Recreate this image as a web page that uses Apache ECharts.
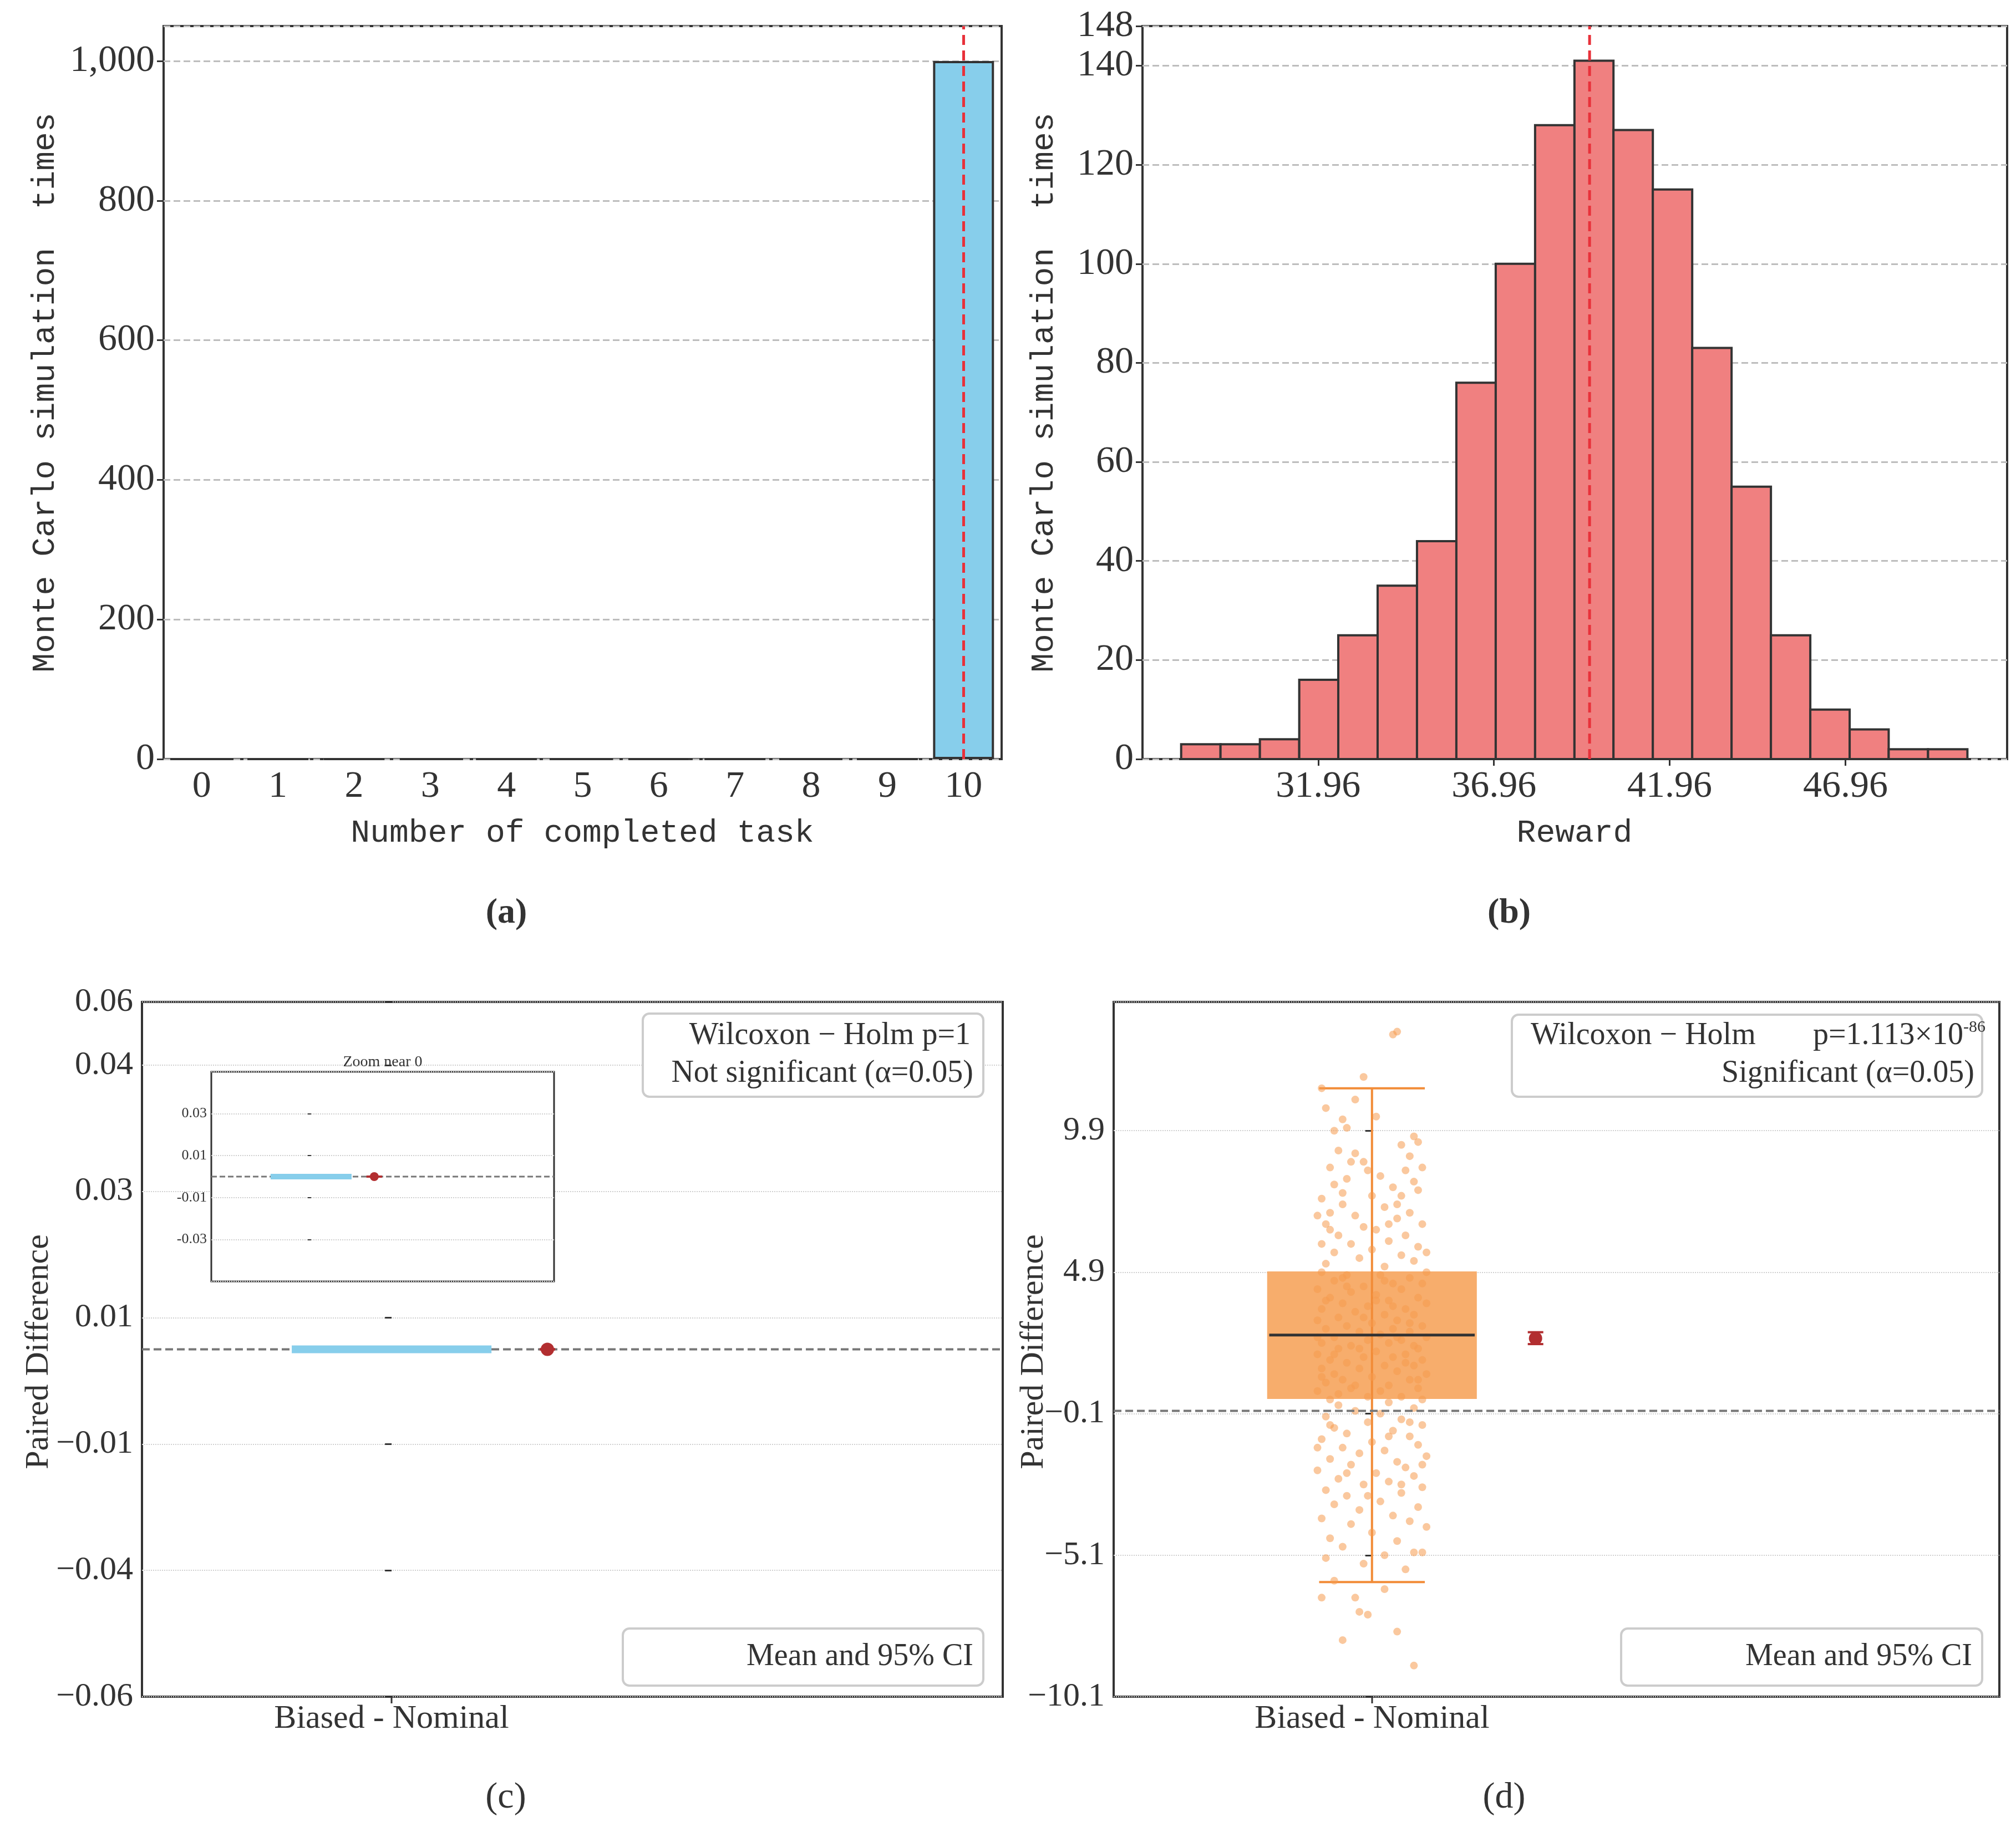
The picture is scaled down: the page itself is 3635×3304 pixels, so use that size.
<!DOCTYPE html>
<html>
<head>
<meta charset="utf-8">
<script src="https://cdn.jsdelivr.net/npm/echarts@6/dist/echarts.min.js"></script>
<style>html,body{margin:0;padding:0;background:#fff}#main{width:3635px;height:3304px}</style>
</head>
<body>
<div id="main"></div>
<script>
// (a) 完成任务数
var aCategories = ['0','1','2','3','4','5','6','7','8','9','10'];
var aCounts = [0,0,0,0,0,0,0,0,0,0,1000];
var aMarker = '10';
// (b) 奖励直方图
var bEdges = [28.06,29.18,30.30,31.42,32.53,33.65,34.77,35.89,37.01,38.13,39.25,40.36,41.48,42.60,43.72,44.84,45.96,47.08,48.19,49.31,50.43];
var bCounts = [3,3,4,16,25,35,44,76,100,128,141,127,115,83,55,25,10,6,2,2];
var bMarker = 39.68;
// (c) 配对差值 (全零)
var cBox = [0,0,0,0,0];
var cMean = [0.39, 0, 0, 0];
// (d) 配对差值
var dBox = [-6.05, 0.42, 2.68, 4.93, 11.4];
var dMean = [0.39, 2.56, 2.36, 2.78];
var dPoints = [
[0.05,13.3],[0.06,13.4],[-0.02,11.8],[-0.12,11.4],[-0.11,10.7],[-0.07,10.3],[0.01,10.4],[-0.04,11.0],[-0.09,9.9],[-0.06,10.0],
[0.10,9.7],[0.07,9.4],[-0.08,9.2],[-0.04,9.1],[0.11,9.5],[-0.05,8.8],[-0.02,8.8],[-0.10,8.6],[0.12,8.6],[0.08,8.5],
[0.02,8.3],[-0.06,8.2],[0.10,8.1],[-0.09,8.0],[0.05,7.9],[-0.12,7.5],[0.00,7.6],[0.07,7.6],[0.11,7.8],[-0.07,7.3],
[0.03,7.2],[-0.10,7.0],[0.09,7.0],[-0.04,6.9],[0.06,6.8],[0.12,6.6],[-0.11,6.6],[-0.02,6.5],[0.01,6.4],[-0.08,6.2],
[0.08,6.2],[0.04,6.0],[-0.12,5.9],[-0.05,5.9],[0.11,5.8],[0.00,5.7],[-0.09,5.6],[0.07,5.5],[-0.03,5.4],[0.10,5.3],
[-0.11,5.2],[0.03,5.1],[0.13,5.6],[-0.13,6.9],[0.06,7.3],[-0.01,8.5],[0.09,9.0],[-0.07,7.7],[0.04,6.6],[-0.10,6.4],
[-0.12,4.9],[-0.06,4.8],[0.02,4.8],[0.09,4.7],[-0.09,4.6],[0.05,4.5],[0.12,4.5],[-0.02,4.4],[-0.13,4.3],[0.07,4.3],
[-0.05,4.2],[0.01,4.1],[0.11,4.0],[-0.10,4.0],[0.04,3.9],[-0.07,3.8],[0.13,3.8],[-0.01,3.7],[0.08,3.6],[-0.12,3.6],
[-0.04,3.5],[0.03,3.4],[0.10,3.4],[-0.08,3.3],[0.06,3.2],[-0.13,3.2],[0.00,3.1],[0.12,3.0],[-0.06,3.0],[0.05,2.9],
[-0.11,2.9],[-0.03,2.8],[0.09,2.8],[0.02,2.7],[-0.09,2.6],[0.13,2.6],[-0.01,2.5],[0.07,2.5],[-0.12,2.4],[0.04,2.4],
[-0.05,2.3],[0.11,2.2],[-0.08,2.2],[0.01,2.1],[0.08,2.0],[-0.13,2.0],[-0.02,1.9],[0.05,1.9],[-0.10,1.8],[0.12,1.8],
[-0.06,1.7],[0.03,1.6],[0.10,1.6],[-0.12,1.5],[-0.03,1.5],[0.06,1.4],[-0.09,1.3],[0.13,1.3],[0.00,1.2],[-0.07,1.1],
[0.09,1.1],[-0.11,1.0],[0.04,0.9],[-0.04,0.9],[0.11,0.8],[-0.13,0.7],[0.02,0.7],[-0.08,0.6],[0.07,0.5],[-0.01,0.5],
[0.12,0.4],[-0.10,0.4],[0.05,3.7],[-0.06,4.4],[0.10,2.3],[-0.12,1.2],[0.03,4.6],[-0.02,3.3],[0.08,1.7],[-0.09,2.0],
[0.01,3.9],[-0.05,0.8],[0.13,4.9],[-0.11,3.9],[0.06,2.6],[-0.07,4.7],[0.09,3.1],[-0.03,2.2],[0.11,1.1],[-0.13,2.6],
[0.04,0.3],[-0.08,0.2],[0.10,0.1],[-0.04,0.0],[0.02,-0.1],[-0.11,-0.2],[0.07,-0.3],[-0.01,-0.4],[0.12,-0.5],[-0.09,-0.6],
[0.05,-0.7],[-0.06,-0.8],[0.09,-0.9],[-0.12,-1.0],[0.00,-1.1],[0.11,-1.2],[-0.07,-1.3],[0.03,-1.4],[-0.03,-1.5],[0.13,-1.6],
[-0.10,-1.7],[0.06,-1.8],[-0.05,-1.9],[0.08,-2.0],[-0.13,-2.1],[0.01,-2.2],[0.10,-2.3],[-0.08,-2.4],[0.04,-2.5],[-0.02,-2.6],
[0.12,-2.7],[-0.11,-2.8],[0.07,-2.9],[-0.06,-3.0],[0.02,-3.2],[-0.09,-3.3],[0.11,-3.4],[-0.03,-3.5],[0.05,-3.7],[-0.12,-3.8],
[0.09,-3.9],[-0.05,-4.0],[0.13,-4.1],[0.00,-4.3],[-0.10,-4.5],[0.06,-4.6],[-0.07,-4.8],[0.10,-5.0],[0.03,-5.1],[-0.11,-5.2],
[0.12,-5.0],[-0.02,-5.4],[0.08,-5.6],[-0.09,-6.0],[0.03,-6.3],[-0.12,-6.6],[-0.04,-6.6],[-0.03,-7.1],[-0.01,-7.2],[-0.07,-8.1],
[0.06,-7.8],[0.10,-9.0],[-0.13,-1.3],[0.09,-0.4],[-0.06,-2.2],[0.12,-1.9],[-0.01,-3.0],[0.04,-0.9],[-0.10,-0.5],[0.07,-2.6]
];

var serif = 'Liberation Serif';
var mono = 'Liberation Mono';
var ink = '#333333';

function errorBar(params, api) {
    var p = api.coord([api.value(0), api.value(1)]);
    var lo = api.coord([api.value(0), api.value(2)]);
    var hi = api.coord([api.value(0), api.value(3)]);
    var cap = 14;
    var st = { stroke: '#B22E30', lineWidth: 4 };
    var ch = [
        { type: 'line', shape: { x1: p[0], y1: lo[1], x2: p[0], y2: hi[1] }, style: st },
        { type: 'line', shape: { x1: p[0] - cap, y1: lo[1], x2: p[0] + cap, y2: lo[1] }, style: st },
        { type: 'line', shape: { x1: p[0] - cap, y1: hi[1], x2: p[0] + cap, y2: hi[1] }, style: st },
        { type: 'circle', shape: { cx: p[0], cy: p[1], r: params.seriesName === 'inset' ? 8 : 12 }, style: { fill: '#B22E30' } }
    ];
    return { type: 'group', children: ch };
}

function axisCommon(fs, fam) {
    return {
        axisLine: { show: false },
        axisTick: { show: true, inside: false, length: 12, lineStyle: { color: ink, width: 3 } },
        axisLabel: { fontFamily: fam, fontSize: fs, color: ink, margin: 16 }
    };
}

var chart = echarts.init(document.getElementById('main'));
var option = {
    animation: false,
    backgroundColor: '#fff',
    grid: [
        { left: 295, top: 47, width: 1511, height: 1322, show: true, borderColor: ink, borderWidth: 4 },
        { left: 2060, top: 47, width: 1559, height: 1322, show: true, borderColor: ink, borderWidth: 4 },
        { left: 256, top: 1807, width: 1552, height: 1253, show: true, borderColor: ink, borderWidth: 4 },
        { left: 2008, top: 1807, width: 1597, height: 1253, show: true, borderColor: ink, borderWidth: 4 },
        { left: 381, top: 1933, width: 618, height: 378, show: true, borderColor: ink, borderWidth: 3, backgroundColor: '#fff', z: 5 }
    ],
    xAxis: [
        Object.assign(axisCommon(68, serif), { gridIndex: 0, type: 'category', data: aCategories, axisTick: { alignWithLabel: true, length: 12, lineStyle: { color: ink, width: 3 } } }),
        Object.assign(axisCommon(68, serif), { gridIndex: 1, type: 'value', min: 26.96, max: 51.56, interval: 5, axisLabel: { fontFamily: serif, fontSize: 68, color: ink, margin: 16, showMinLabel: false, showMaxLabel: false }, splitLine: { show: false } }),
        Object.assign(axisCommon(60, serif), { gridIndex: 2, type: 'value', min: -0.625, max: 1.53, interval: 5, splitLine: { show: false }, axisTick: { show: false }, axisLabel: { show: false } }),
        Object.assign(axisCommon(60, serif), { gridIndex: 3, type: 'value', min: -0.616, max: 1.496, splitLine: { show: false }, axisTick: { show: false }, axisLabel: { show: false } }),
        { gridIndex: 4, type: 'value', min: -0.616, max: 1.5, show: false, z: 6 }
    ],
    yAxis: [
        Object.assign(axisCommon(68, serif), { gridIndex: 0, type: 'value', min: 0, max: 1050, interval: 200, splitLine: { show: true, lineStyle: { color: '#bdbdbd', width: 3, type: [12, 6] } } }),
        Object.assign(axisCommon(68, serif), { gridIndex: 1, type: 'value', min: 0, max: 148, interval: 20, splitLine: { show: true, lineStyle: { color: '#bdbdbd', width: 3, type: [12, 6] } } }),
        Object.assign(axisCommon(60, serif), { gridIndex: 2, type: 'value', min: -0.055, max: 0.055, interval: 0.02, axisLabel: { fontFamily: serif, fontSize: 60, color: ink, margin: 16, formatter: function (v) { var s = Math.abs(v).toFixed(2); return v < -1e-9 ? '\u2212' + s : s; } }, splitLine: { show: true, lineStyle: { color: '#d0d0d0', width: 2, type: 'dotted' } } }),
        Object.assign(axisCommon(60, serif), { gridIndex: 3, type: 'value', min: -10.1, max: 14.45, interval: 5, axisLabel: { fontFamily: serif, fontSize: 60, color: ink, margin: 16, showMaxLabel: false, formatter: function (v) { return v < 0 ? '\u2212' + Math.abs(v) : String(v); } }, splitLine: { show: true, lineStyle: { color: '#d0d0d0', width: 2, type: 'dotted' } } }),
        { gridIndex: 4, type: 'value', min: -0.05, max: 0.05, interval: 0.02, z: 6,
          axisLine: { show: false }, axisTick: { show: true, length: 6, lineStyle: { color: ink, width: 2 } },
          axisLabel: { fontFamily: serif, fontSize: 26, color: ink, margin: 8, showMinLabel: false, showMaxLabel: false, formatter: function (v) { return v.toFixed(2); } },
          splitLine: { show: true, lineStyle: { color: '#d0d0d0', width: 2, type: 'dotted' } } }
    ],
    series: [
        { type: 'bar', xAxisIndex: 0, yAxisIndex: 0, data: aCounts, barWidth: '80%',
          itemStyle: { color: '#87CEEB', borderColor: ink, borderWidth: 4 },
          markLine: { silent: true, symbol: 'none', label: { show: false },
                      lineStyle: { color: '#E8313A', width: 5, type: [18, 10] }, data: [{ xAxis: aMarker }] } },
        { type: 'custom', xAxisIndex: 1, yAxisIndex: 1,
          data: bCounts.map(function (c, i) { return [bEdges[i], bEdges[i + 1], c]; }),
          renderItem: function (params, api) {
              var p0 = api.coord([api.value(0), api.value(2)]);
              var p1 = api.coord([api.value(1), 0]);
              return { type: 'rect', shape: { x: p0[0], y: p0[1], width: p1[0] - p0[0], height: p1[1] - p0[1] },
                       style: { fill: '#F08080', stroke: ink, lineWidth: 4 } };
          } },
        { type: 'line', xAxisIndex: 1, yAxisIndex: 1, data: [[bMarker, 0], [bMarker, 148]], symbol: 'none', z: 5,
          lineStyle: { color: '#E8313A', width: 5, type: [18, 10] } },
        // (c)
        { type: 'line', xAxisIndex: 2, yAxisIndex: 2, data: [[-0.625, 0], [1.53, 0]], symbol: 'none',
          lineStyle: { color: '#777', width: 4, type: [14, 7] } },
        { type: 'line', xAxisIndex: 2, yAxisIndex: 2, data: [[-0.25, cBox[2]], [0.25, cBox[2]]], symbol: 'none', z: 3,
          lineStyle: { color: '#87CEEB', width: 14, cap: 'butt' } },
        { type: 'custom', xAxisIndex: 2, yAxisIndex: 2, data: [cMean], renderItem: errorBar, z: 4 },
        // inset
        { type: 'line', xAxisIndex: 4, yAxisIndex: 4, data: [[-0.616, 0], [1.5, 0]], symbol: 'none', z: 6,
          lineStyle: { color: '#777', width: 3, type: [10, 5] } },
        { type: 'line', xAxisIndex: 4, yAxisIndex: 4, data: [[-0.25, cBox[2]], [0.25, cBox[2]]], symbol: 'none', z: 7,
          lineStyle: { color: '#87CEEB', width: 10, cap: 'butt' } },
        { type: 'custom', name: 'inset', xAxisIndex: 4, yAxisIndex: 4, data: [cMean], renderItem: errorBar, z: 8 },
        // (d)
        { type: 'line', xAxisIndex: 3, yAxisIndex: 3, data: [[-0.616, 0], [1.496, 0]], symbol: 'none', z: 5,
          lineStyle: { color: '#777', width: 4, type: [14, 7] } },
        { type: 'custom', xAxisIndex: 3, yAxisIndex: 3, data: [[0].concat(dBox)], z: 1,
          renderItem: function (params, api) {
              var a = api.coord([-0.25, api.value(4)]);
              var b = api.coord([0.25, api.value(2)]);
              var w0 = api.coord([0, api.value(1)]);
              var w1 = api.coord([0, api.value(5)]);
              var cl = api.coord([-0.126, 0])[0], cr = api.coord([0.126, 0])[0];
              var st = { stroke: '#F28C38', lineWidth: 4 };
              return { type: 'group', children: [
                  { type: 'rect', shape: { x: a[0], y: a[1], width: b[0] - a[0], height: b[1] - a[1] }, style: { fill: '#F7AD6C' } },
                  { type: 'line', shape: { x1: w0[0], y1: w0[1], x2: w1[0], y2: w1[1] }, style: st },
                  { type: 'line', shape: { x1: cl, y1: w0[1], x2: cr, y2: w0[1] }, style: st },
                  { type: 'line', shape: { x1: cl, y1: w1[1], x2: cr, y2: w1[1] }, style: st }
              ] };
          } },
        { type: 'scatter', xAxisIndex: 3, yAxisIndex: 3, data: dPoints, symbolSize: 14, z: 3,
          itemStyle: { color: '#F59A4E', opacity: 0.55 } },
        { type: 'custom', xAxisIndex: 3, yAxisIndex: 3, data: [[0, dBox[2]]], z: 4,
          renderItem: function (params, api) {
              var a = api.coord([-0.245, api.value(1)]), b = api.coord([0.245, api.value(1)]);
              return { type: 'line', shape: { x1: a[0], y1: a[1], x2: b[0], y2: b[1] }, style: { stroke: ink, lineWidth: 5 } };
          } },
        { type: 'custom', xAxisIndex: 3, yAxisIndex: 3, data: [dMean], renderItem: errorBar, z: 6 }
    ],
    graphic: [
        // axis names
        { type: 'text', x: 82, y: 708, rotation: Math.PI / 2, style: { text: 'Monte Carlo simulation  times', font: '58px "Liberation Mono"', fill: ink, align: 'center', verticalAlign: 'middle' } },
        { type: 'text', x: 1883, y: 708, rotation: Math.PI / 2, style: { text: 'Monte Carlo simulation  times', font: '58px "Liberation Mono"', fill: ink, align: 'center', verticalAlign: 'middle' } },
        { type: 'text', x: 1050, y: 1503, style: { text: 'Number of completed task', font: '58px "Liberation Mono"', fill: ink, align: 'center', verticalAlign: 'middle' } },
        { type: 'text', x: 2839, y: 1503, style: { text: 'Reward', font: '58px "Liberation Mono"', fill: ink, align: 'center', verticalAlign: 'middle' } },
        { type: 'text', x: 70, y: 2438, rotation: Math.PI / 2, style: { text: 'Paired Difference', font: '60px "Liberation Serif"', fill: ink, align: 'center', verticalAlign: 'middle' } },
        { type: 'text', x: 1864, y: 2438, rotation: Math.PI / 2, style: { text: 'Paired Difference', font: '60px "Liberation Serif"', fill: ink, align: 'center', verticalAlign: 'middle' } },
        { type: 'text', x: 706, y: 3100, style: { text: 'Biased - Nominal', font: '60px "Liberation Serif"', fill: ink, align: 'center', verticalAlign: 'middle' } },
        { type: 'line', shape: { x1: 706, y1: 3060, x2: 706, y2: 3072 }, style: { stroke: ink, lineWidth: 3 } },
        { type: 'text', x: 2474, y: 3100, style: { text: 'Biased - Nominal', font: '60px "Liberation Serif"', fill: ink, align: 'center', verticalAlign: 'middle' } },
        { type: 'line', shape: { x1: 2474, y1: 3060, x2: 2474, y2: 3072 }, style: { stroke: ink, lineWidth: 3 } },
        // captions
        { type: 'text', x: 913, y: 1647, style: { text: '(a)', font: 'bold 64px "Liberation Serif"', fill: ink, align: 'center', verticalAlign: 'middle' } },
        { type: 'text', x: 2721, y: 1647, style: { text: '(b)', font: 'bold 64px "Liberation Serif"', fill: ink, align: 'center', verticalAlign: 'middle' } },
        { type: 'text', x: 912, y: 3243, style: { text: '(c)', font: '66px "Liberation Serif"', fill: ink, align: 'center', verticalAlign: 'middle' } },
        { type: 'text', x: 2712, y: 3243, style: { text: '(d)', font: '66px "Liberation Serif"', fill: ink, align: 'center', verticalAlign: 'middle' } },
        // inset title
        { type: 'text', x: 690, y: 1916, z: 20, style: { text: 'Zoom near 0', font: '28px "Liberation Serif"', fill: ink, align: 'center', verticalAlign: 'middle' } },
        // text box (c)
        { type: 'rect', z: 20, shape: { x: 1159, y: 1828, width: 614, height: 150, r: 12 }, style: { fill: '#fff', stroke: '#cccccc', lineWidth: 4 } },
        { type: 'text', z: 21, x: 1750, y: 1868, style: { text: 'Wilcoxon \u2212 Holm p=1', font: '56px "Liberation Serif"', fill: ink, align: 'right', verticalAlign: 'middle' } },
        { type: 'text', z: 21, x: 1755, y: 1936, style: { text: 'Not significant (\u03b1=0.05)', font: '56px "Liberation Serif"', fill: ink, align: 'right', verticalAlign: 'middle' } },
        // text box (d)
        { type: 'rect', z: 20, shape: { x: 2726, y: 1830, width: 848, height: 148, r: 12 }, style: { fill: '#fff', stroke: '#cccccc', lineWidth: 4 } },
        { type: 'text', z: 21, x: 2760, y: 1868, style: { text: 'Wilcoxon \u2212 Holm', font: '56px "Liberation Serif"', fill: ink, align: 'left', verticalAlign: 'middle' } },
        { type: 'text', z: 21, x: 3580, y: 1868, style: { text: '{a|p=1.113\u00d710}{s|-86}', align: 'right', verticalAlign: 'middle',
            rich: { a: { font: '56px "Liberation Serif"', fill: ink }, s: { font: '30px "Liberation Serif"', fill: ink, padding: [0, 0, 30, 0] } } } },
        { type: 'text', z: 21, x: 3560, y: 1936, style: { text: 'Significant (\u03b1=0.05)', font: '56px "Liberation Serif"', fill: ink, align: 'right', verticalAlign: 'middle' } },
        // legend (c)
        { type: 'rect', z: 20, shape: { x: 1123, y: 2937, width: 650, height: 103, r: 12 }, style: { fill: '#fff', stroke: '#cccccc', lineWidth: 4 } },
        { type: 'group', z: 21, x: 1207, y: 2988, children: [
            { type: 'line', shape: { x1: 0, y1: -34, x2: 0, y2: 34 }, style: { stroke: '#B22E30', lineWidth: 4 } },
            { type: 'line', shape: { x1: -14, y1: -34, x2: 14, y2: -34 }, style: { stroke: '#B22E30', lineWidth: 4 } },
            { type: 'line', shape: { x1: -14, y1: 34, x2: 14, y2: 34 }, style: { stroke: '#B22E30', lineWidth: 4 } },
            { type: 'circle', shape: { cx: 0, cy: 0, r: 11 }, style: { fill: '#B22E30' } }
        ] },
        { type: 'text', z: 21, x: 1755, y: 2988, style: { text: 'Mean and 95% CI', font: '56px "Liberation Serif"', fill: ink, align: 'right', verticalAlign: 'middle' } },
        // legend (d)
        { type: 'rect', z: 20, shape: { x: 2923, y: 2937, width: 651, height: 103, r: 12 }, style: { fill: '#fff', stroke: '#cccccc', lineWidth: 4 } },
        { type: 'group', z: 21, x: 3007, y: 2988, children: [
            { type: 'line', shape: { x1: 0, y1: -34, x2: 0, y2: 34 }, style: { stroke: '#B22E30', lineWidth: 4 } },
            { type: 'line', shape: { x1: -14, y1: -34, x2: 14, y2: -34 }, style: { stroke: '#B22E30', lineWidth: 4 } },
            { type: 'line', shape: { x1: -14, y1: 34, x2: 14, y2: 34 }, style: { stroke: '#B22E30', lineWidth: 4 } },
            { type: 'circle', shape: { cx: 0, cy: 0, r: 11 }, style: { fill: '#B22E30' } }
        ] },
        { type: 'text', z: 21, x: 3556, y: 2988, style: { text: 'Mean and 95% CI', font: '56px "Liberation Serif"', fill: ink, align: 'right', verticalAlign: 'middle' } }
    ]
};
chart.setOption(option);
</script>
</body>
</html>
